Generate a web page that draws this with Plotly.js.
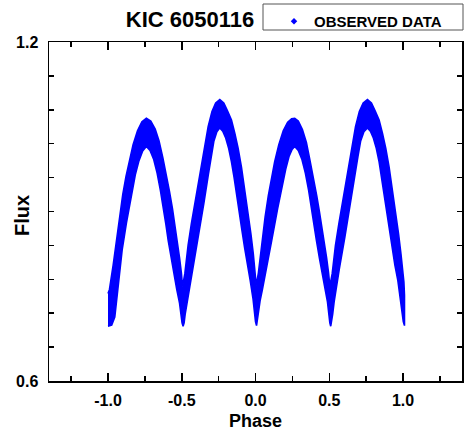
<!DOCTYPE html>
<html>
<head>
<meta charset="utf-8">
<script src="https://cdn.plot.ly/plotly-3.0.1.min.js"></script>
<style>html,body{margin:0;padding:0;background:#fff;}#chart{width:464px;height:439px;}</style>
</head>
<body>
<div id="chart"></div>
<script>
var phaseUpper = [-1.000,-0.990,-0.965,-0.943,-0.920,-0.900,-0.878,-0.857,-0.830,-0.800,-0.770,-0.740,-0.710,-0.680,-0.654,-0.628,-0.603,-0.583,-0.563,-0.545,-0.529,-0.515,-0.502,-0.495,
  -0.479,-0.457,-0.435,-0.412,-0.395,-0.378,-0.350,-0.321,-0.295,-0.270,-0.242,-0.215,-0.190,-0.163,-0.140,-0.118,-0.095,-0.070,-0.048,-0.031,-0.015,-0.004,0.005,
  0.020,0.042,0.065,0.087,0.110,0.130,0.158,0.188,0.218,0.245,0.266,0.290,0.318,0.345,0.368,0.392,0.415,0.433,0.452,0.468,0.482,0.495,0.504,
  0.520,0.542,0.565,0.587,0.604,0.621,0.650,0.678,0.704,0.730,0.759,0.786,0.811,0.838,0.861,0.883,0.906,0.931,0.953,0.970,0.986,0.997,1.006,1.010];
var fluxUpper = [0.755,0.762,0.805,0.848,0.893,0.930,0.962,0.988,1.018,1.043,1.059,1.065,1.060,1.046,1.025,0.995,0.965,0.935,0.905,0.875,0.848,0.818,0.790,0.767,
  0.790,0.840,0.878,0.912,0.940,0.965,1.008,1.050,1.077,1.092,1.098,1.092,1.078,1.062,1.038,1.012,0.978,0.935,0.895,0.860,0.825,0.795,0.769,
  0.792,0.845,0.890,0.928,0.962,0.988,1.018,1.043,1.058,1.064,1.065,1.060,1.045,1.022,0.992,0.962,0.928,0.900,0.870,0.845,0.818,0.792,0.768,
  0.790,0.840,0.878,0.912,0.940,0.965,1.008,1.050,1.077,1.092,1.098,1.092,1.078,1.062,1.038,1.012,0.978,0.935,0.895,0.860,0.825,0.798,0.775,0.752];

var phaseLower = [-1.000,-0.975,-0.954,-0.930,-0.904,-0.875,-0.845,-0.815,-0.790,-0.765,-0.740,-0.715,-0.690,-0.667,-0.645,-0.626,-0.608,-0.592,-0.572,-0.554,-0.534,-0.515,-0.505,-0.498,-0.491,
  -0.484,-0.477,-0.467,-0.450,-0.427,-0.389,-0.350,-0.320,-0.300,-0.282,-0.262,-0.242,-0.222,-0.202,-0.182,-0.163,-0.145,-0.128,-0.110,-0.094,-0.074,-0.056,-0.036,-0.017,-0.007,0.000,0.007,
  0.014,0.021,0.031,0.047,0.070,0.110,0.150,0.180,0.205,0.228,0.248,0.266,0.290,0.315,0.338,0.360,0.379,0.397,0.413,0.433,0.451,0.471,0.488,0.498,0.504,0.510,
  0.516,0.523,0.533,0.547,0.568,0.606,0.645,0.675,0.695,0.713,0.735,0.759,0.779,0.799,0.819,0.838,0.856,0.873,0.891,0.907,0.927,0.945,0.965,0.984,0.994,1.002,1.010];
var fluxLower = [0.697,0.699,0.713,0.772,0.832,0.880,0.925,0.965,0.990,1.007,1.015,1.008,0.992,0.968,0.938,0.909,0.878,0.849,0.818,0.790,0.762,0.738,0.718,0.703,0.697,
  0.703,0.718,0.740,0.765,0.798,0.855,0.915,0.965,0.998,1.025,1.041,1.048,1.042,1.030,1.012,0.988,0.960,0.932,0.900,0.870,0.836,0.805,0.778,0.746,0.722,0.705,0.698,
  0.705,0.720,0.742,0.762,0.790,0.849,0.905,0.945,0.975,0.998,1.010,1.015,1.008,0.992,0.968,0.938,0.909,0.878,0.849,0.818,0.790,0.764,0.740,0.718,0.703,0.697,
  0.703,0.718,0.740,0.765,0.798,0.855,0.915,0.965,0.998,1.025,1.041,1.048,1.042,1.030,1.012,0.988,0.960,0.932,0.900,0.870,0.836,0.805,0.778,0.746,0.722,0.705,0.698];

var xTickVals = [-1.0,-0.5,0.0,0.5,1.0];
var xTickText = ['-1.0','-0.5','0.0','0.5','1.0'];
var yTickVals = [0.6,0.66,0.72,0.78,0.84,0.90,0.96,1.02,1.08,1.14,1.2];
var yTickText = ['0.6','','','','','','','','','','1.2'];
var seriesName = 'OBSERVED DATA';
var chartTitle = 'KIC 6050116';

var FONT = 'Arial, "Liberation Sans", sans-serif';
var BLUE = '#0000ff';

var polyX = phaseUpper.concat(phaseLower.slice().reverse());
var polyY = fluxUpper.concat(fluxLower.slice().reverse());

var traces = [
  {x: polyX, y: polyY, type: 'scatter', mode: 'lines', fill: 'toself',
   fillcolor: BLUE, line: {color: BLUE, width: 1.6}, showlegend: false, hoverinfo: 'skip'},
  {x: [null], y: [null], type: 'scatter', mode: 'markers', name: seriesName,
   marker: {symbol: 'diamond', size: 5, color: BLUE}}
];

var axisCommon = {
  showline: true, linecolor: '#000', linewidth: 1.5, mirror: 'ticks',
  ticks: 'inside', tickcolor: '#000', tickwidth: 1.5,
  showgrid: false, zeroline: false,
  tickfont: {family: FONT, size: 16, color: '#000', weight: 'bold'}
};

// legend frame in pixels of the page
var boxL = 263, boxR = 463, boxT = 4, boxB = 30;
function pxX(px) { return (px - 49) / 413; }
function pxY(py) { return (381 - py) / 339; }

var layout = {
  width: 464, height: 439,
  margin: {l: 49, r: 2, t: 42, b: 58},
  paper_bgcolor: '#fff', plot_bgcolor: '#fff',
  title: {text: chartTitle, font: {family: FONT, size: 22, color: '#000', weight: 'bold'},
          xref: 'container', x: 190/464, xanchor: 'center',
          yref: 'container', y: 1 - 19/439, yanchor: 'middle'},
  showlegend: true,
  legend: {xref: 'container', x: boxL/464, xanchor: 'left',
           yref: 'container', y: 1 - (boxT + 1)/439, yanchor: 'top',
           orientation: 'h', bgcolor: 'rgba(0,0,0,0)', borderwidth: 0,
           indentation: 11,
           font: {family: FONT, size: 15, color: '#000', weight: 'bold'}},
  shapes: [{type: 'rect', xref: 'paper', yref: 'paper', layer: 'below',
            x0: pxX(boxL), x1: pxX(boxR), y0: pxY(boxB), y1: pxY(boxT),
            line: {color: '#555', width: 1}, fillcolor: '#fff'}],
  xaxis: Object.assign({}, axisCommon, {
    range: [-1.4, 1.4], tickmode: 'array', tickvals: xTickVals, ticktext: xTickText,
    ticklen: 8, ticklabelstandoff: 4,
    minor: {dtick: 0.25, tick0: 0, ticks: 'inside', ticklen: 5, tickwidth: 1.5, tickcolor: '#000', showgrid: false},
    title: {text: 'Phase', font: {family: FONT, size: 18, color: '#000', weight: 'bold'}, standoff: 6}
  }),
  yaxis: Object.assign({}, axisCommon, {
    range: [0.6, 1.2], tickmode: 'array', tickvals: yTickVals, ticktext: yTickText,
    ticklen: 5, ticklabelstandoff: 6
  }),
  annotations: [{text: 'Flux', textangle: -90, xref: 'paper', yref: 'paper',
    x: (22 - 49)/413, y: (381 - 216)/339, xanchor: 'center', yanchor: 'middle', showarrow: false,
    font: {family: FONT, size: 20, color: '#000', weight: 'bold'}}]
};

Plotly.newPlot('chart', traces, layout, {staticPlot: true, displayModeBar: false});
</script>
</body>
</html>
